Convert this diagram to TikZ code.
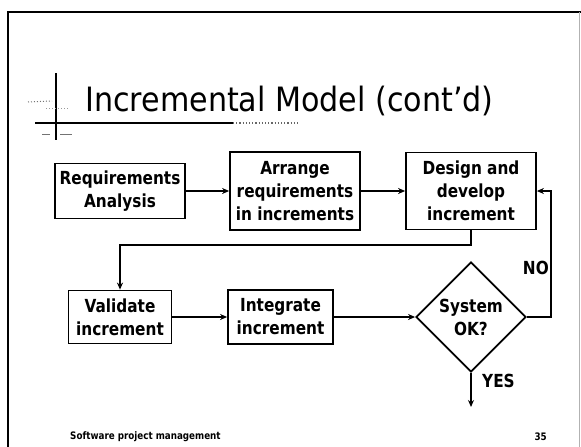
\documentclass[tikz,border=0pt]{standalone}
\usepackage{fontspec}
\setmainfont{DejaVu Sans}
\newfontfamily\titlefont{DejaVu Sans}[FakeStretch=0.9]
\newfontfamily\boxfont{DejaVu Sans}[FakeStretch=0.85]
\usetikzlibrary{shapes.geometric,arrows.meta}
\newcommand\boxtext{\boxfont\bfseries\fontsize{18}{23}\selectfont}
\newcommand\foottext{\boxfont\bfseries\fontsize{10.3}{12}\selectfont}
\begin{document}
\begin{tikzpicture}[x=1pt,y=-1pt,
  procbox/.style={draw, line width=1.8pt, fill=white, align=center,
    inner sep=0pt, font=\boxtext},
  decision/.style={diamond, draw, line width=1.8pt, fill=white, inner sep=0pt,
    minimum width=110pt, minimum height=110pt, align=center, font=\boxtext},
  flow/.style={line width=1.5pt, -{Stealth[length=7pt,width=6pt]}},
  tag/.style={font=\boxtext, inner sep=0pt},
  footer/.style={font=\foottext, inner sep=0pt}]

% slide area and frame
\useasboundingbox (0,0) rectangle (581,447);
\fill[white] (0,0) rectangle (581,447);
\draw[line width=2pt] (8,447) -- (8,12) -- (581,12);
\draw[line width=1pt, black!30] (579,12) -- (579,447);

% title with its small cross mark and rule
\draw[line width=1.5pt] (56,73) -- (56,140);
\draw[line width=1.6pt] (35,123) -- (233,123);
\draw[line width=1.2pt, dotted, black!60] (233,123) -- (300,123);
\draw[line width=1pt, black!55, dotted] (28,102) -- (52,101);
\draw[line width=1pt, black!40, dotted] (46,108) -- (70,108);
\draw[line width=1pt, black!55] (42,134) -- (50,134) (60,134) -- (72,134);
\node[anchor=base west, inner sep=0pt, font=\titlefont\fontsize{33.5}{36}\selectfont]
  (title) at (85,111) {Incremental Model (cont’d)};

% process boxes
\node[procbox, minimum width=130pt, minimum height=55pt] (req) at (120,191)
  {Requirements\\Analysis};
\node[procbox, minimum width=130pt, minimum height=78pt] (arr) at (295,191)
  {Arrange\\requirements\\in increments};
\node[procbox, minimum width=130pt, minimum height=77pt] (des) at (471,191)
  {Design and\\develop\\increment};
\node[procbox, minimum width=103pt, minimum height=53pt] (val) at (120,317)
  {Validate\\increment};
\node[procbox, minimum width=105pt, minimum height=54pt] (intg) at (280.5,317)
  {Integrate\\increment};
\node[decision] (dia) at (471,317) {System\\OK?};

% turning points of the connectors
\coordinate (turn) at (120,245);
\coordinate (back) at (551,317);
\coordinate (out) at (471,407);

% connectors
\draw[flow] (req) -- (arr);
\draw[flow] (arr) -- (des);
\draw[flow] (des.south) |- (turn) -- (val.north);
\draw[flow] (val) -- (intg);
\draw[flow] (intg) -- (dia);
\draw[flow] (dia.east) -- (back) |- (des.east);
\draw[flow] (dia.south) -- (out);

% branch labels
\node[tag, anchor=east] (no) at (549,268) {NO};
\node[tag, anchor=west] (yes) at (482,381) {YES};

% footer
\node[footer, anchor=west] (foot) at (70,437) {Software project management};
\node[footer, anchor=east] (page) at (547,437) {35};
\end{tikzpicture}
\end{document}
